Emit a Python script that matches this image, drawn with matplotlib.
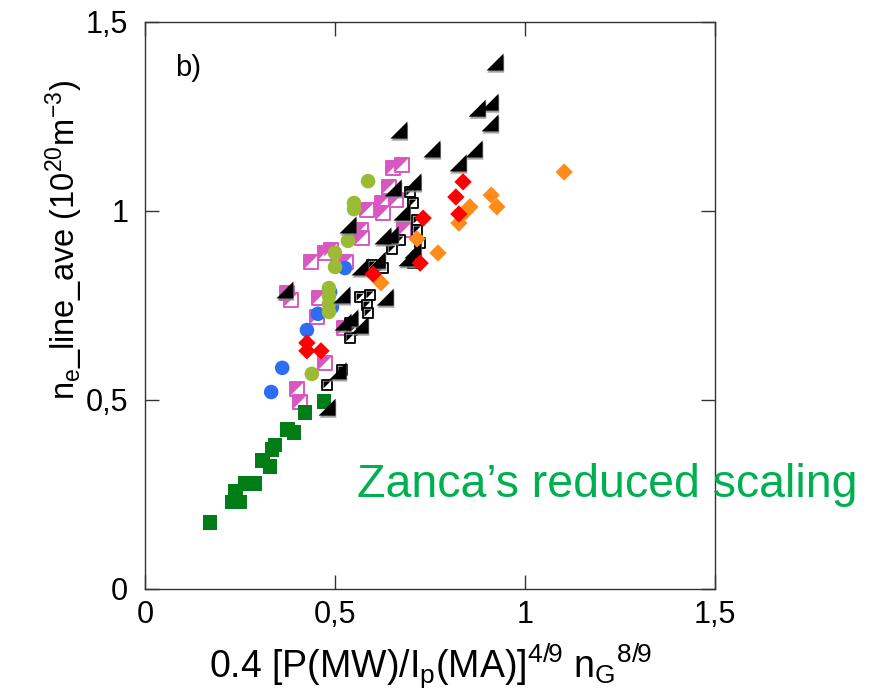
import numpy as np
import matplotlib
matplotlib.use("Agg")
import matplotlib.pyplot as plt
import matplotlib.patheffects as pe
from matplotlib.path import Path
from matplotlib.ticker import FuncFormatter

plt.rcParams['font.family'] = ['Liberation Sans', 'DejaVu Sans']
plt.rcParams['mathtext.fontset'] = 'custom'
plt.rcParams['mathtext.rm'] = 'Liberation Sans'
plt.rcParams['mathtext.it'] = 'Liberation Sans:italic'

# data (x = 0.4 [P/Ip]^4/9 nG^8/9, y = ne line average)
green_sq_x = [0.171, 0.229, 0.250, 0.239, 0.263, 0.289, 0.308, 0.329, 0.334, 0.342, 0.376, 0.392, 0.421, 0.471]
green_sq_y = [0.177, 0.230, 0.230, 0.259, 0.280, 0.280, 0.341, 0.325, 0.368, 0.381, 0.421, 0.415, 0.468, 0.495]

blue_x = [0.332, 0.361, 0.426, 0.455, 0.492, 0.487, 0.526]
blue_y = [0.521, 0.585, 0.685, 0.728, 0.746, 0.786, 0.849]

olive_x = [0.587, 0.550, 0.550, 0.534, 0.500, 0.500, 0.484, 0.484, 0.484, 0.484, 0.439]
olive_y = [1.079, 1.021, 1.005, 0.921, 0.889, 0.852, 0.796, 0.775, 0.754, 0.733, 0.569]

red_x = [0.837, 0.818, 0.826, 0.732, 0.724, 0.600, 0.426, 0.426, 0.463]
red_y = [1.077, 1.037, 0.992, 0.981, 0.862, 0.833, 0.651, 0.630, 0.630]

orange_x = [1.103, 0.911, 0.926, 0.855, 0.842, 0.826, 0.771, 0.716, 0.621]
orange_y = [1.103, 1.042, 1.011, 1.011, 0.997, 0.968, 0.889, 0.926, 0.810]

pink_x = [0.653, 0.676, 0.642, 0.661, 0.624, 0.626, 0.584, 0.568, 0.571, 0.682, 0.489,
          0.474, 0.437, 0.529, 0.374, 0.384, 0.458, 0.453, 0.474, 0.400, 0.408, 0.524]
pink_y = [1.114, 1.122, 1.063, 1.029, 1.021, 0.995, 1.003, 0.950, 0.929, 0.950, 0.897,
          0.889, 0.865, 0.865, 0.783, 0.765, 0.770, 0.720, 0.598, 0.529, 0.495, 0.690]

tri_x = [0.921, 0.908, 0.874, 0.908, 0.755, 0.866, 0.824, 0.668, 0.705, 0.653, 0.676, 0.645,
         0.626, 0.705, 0.689, 0.611, 0.534, 0.566, 0.368, 0.518, 0.632, 0.521, 0.539, 0.566,
         0.479, 0.508]
tri_y = [1.394, 1.288, 1.272, 1.233, 1.164, 1.164, 1.127, 1.214, 1.077, 1.061, 0.997, 0.937,
         0.934, 0.897, 0.876, 0.870, 0.963, 0.852, 0.791, 0.778, 0.772, 0.706, 0.717, 0.698,
         0.481, 0.577]

hollow_x = [0.697, 0.705, 0.716, 0.716, 0.724, 0.671, 0.650, 0.705, 0.626, 0.597, 0.592,
            0.566, 0.584, 0.587, 0.539, 0.545, 0.539, 0.479, 0.518]
hollow_y = [1.050, 1.021, 0.976, 0.950, 0.915, 0.923, 0.899, 0.862, 0.849, 0.857, 0.778,
            0.772, 0.751, 0.730, 0.704, 0.685, 0.664, 0.540, 0.579]

ticks = [0, 0.5, 1, 1.5]

# markers
tri_lr = Path([(1, -1), (1, 1), (-1, -1), (1, -1)], [1, 2, 2, 79])
tri_ul = Path([(-1, 1), (1, 1), (-1, -1), (-1, 1)], [1, 2, 2, 79])

fig = plt.figure(figsize=(8.86, 6.98), dpi=100)
ax = fig.add_axes([0.1637, 0.1562, 0.6433, 0.8123])

# pink half filled squares
ax.scatter(pink_x, pink_y, s=88, marker='s', facecolor='white', edgecolor='#d957c0', linewidth=1.4, zorder=2)
ax.scatter(pink_x, pink_y, s=88, marker=tri_ul, facecolor='#d957c0', edgecolor='none', zorder=2)

# black hollow squares
ax.scatter(hollow_x, hollow_y, s=60, marker='s', facecolor='white', edgecolor='black', linewidth=1.3, zorder=3)
ax.scatter(hollow_x, hollow_y, s=26, marker=tri_ul, facecolor='black', edgecolor='none', zorder=3)

ax.scatter(blue_x, blue_y, s=110, marker='o', color='#2b6ef2', edgecolor='none', zorder=3)
ax.scatter(olive_x, olive_y, s=110, marker='o', color='#9bbb35', edgecolor='none', zorder=4)

# black triangles with grey shadow
ax.scatter(tri_x, tri_y, s=150, marker=tri_lr, color='black', edgecolor='none', zorder=5,
           path_effects=[pe.SimplePatchShadow(offset=(0.5, -1.5), shadow_rgbFace='#888888', alpha=0.8),
                         pe.Normal()])

ax.scatter(orange_x, orange_y, s=78, marker='D', color='#ff8c1a', edgecolor='none', zorder=5)
ax.scatter(red_x, red_y, s=78, marker='D', color='#ff0000', edgecolor='none', zorder=5)

ax.scatter(green_sq_x, green_sq_y, s=115, marker='s', color='#007d17', edgecolor='none', zorder=4)

ax.set_xlim(0, 1.5)
ax.set_ylim(0, 1.5)
ax.set_xticks(ticks)
ax.set_yticks(ticks)
fmt = FuncFormatter(lambda v, p: f'{v:g}'.replace('.', ','))
ax.xaxis.set_major_formatter(fmt)
ax.yaxis.set_major_formatter(fmt)
ax.tick_params(direction='in', length=10, width=1, top=True, right=True,
               labelsize=22, color='#333333')
ax.tick_params(axis='y', pad=12)
ax.tick_params(axis='x', pad=8)
for sp in ax.spines.values():
    sp.set_color('#333333')
    sp.set_linewidth(1)

ax.set_ylabel(r'n$_\mathrm{e}$_line_ave (10$^\mathrm{20}$m$^\mathrm{-3}$)', fontsize=23.5)
ax.yaxis.set_label_coords(-0.105, 0.615)
ax.set_xlabel(r'0.4 [P(MW)/I$_\mathrm{p}$(MA)]$^\mathrm{4/9}$ n$_\mathrm{G}$$^\mathrm{8/9}$', fontsize=27, labelpad=8)

ax.text(0.053, 0.919, 'b)', transform=ax.transAxes, fontsize=21, va='center', ha='left')

fig.text(0.403, 0.305, 'Zanca\u2019s reduced scaling', color='#00b050', fontsize=33.5,
         ha='left', va='center')

fig.savefig('out.png', dpi=100)
